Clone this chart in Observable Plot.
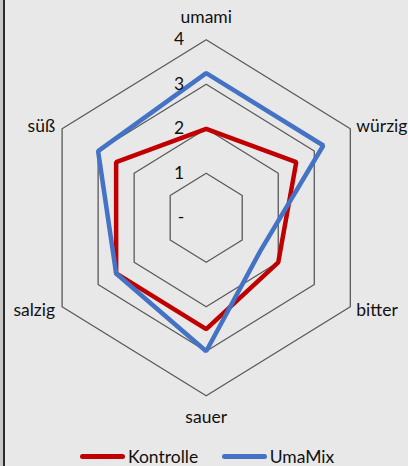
<!DOCTYPE html>
<html>
<head>
<meta charset="utf-8">
<script src="https://cdn.jsdelivr.net/npm/d3@7"></script>
<script src="https://cdn.jsdelivr.net/npm/@observablehq/plot@0.6"></script>
<style>
  html, body { margin: 0; padding: 0; background: #e8e8e8; }
  body { width: 408px; height: 466px; overflow: hidden; position: relative; font-family: Lato, "Open Sans", sans-serif; }
  #edge { position: absolute; left: 0; top: 0; width: 3px; height: 466px; background: #c8c8c8; border-right: 2px solid #2a2a2a; }
  #chart { position: absolute; left: 0; top: 0; }
  #legend { position: absolute; left: 0; top: 446px; width: 408px; height: 20px; font-size: 17.5px; color: #111; }
  .item { position: absolute; top: 0; height: 20px; display: flex; align-items: center; }
  .sw { width: 45px; height: 5px; border-radius: 3px; margin-right: 3px; }
</style>
</head>
<body>
<div id="edge"></div>
<div id="chart"></div>
<div id="legend"></div>
<script>
const categories = ["umami", "würzig", "bitter", "sauer", "salzig", "süß"];
const kontrolle = [2, 2.5, 2, 2.5, 2.5, 2.5];
const umamix = [3.25, 3.25, 1.5, 3, 2.5, 3];
const seriesNames = ["Kontrolle", "UmaMix"];
const seriesColors = ["#c00000", "#4472c4"];
const ringValues = [1, 2, 3, 4];
const tickValues = [0, 1, 2, 3, 4];
const tickLabels = ["-", "1", "2", "3", "4"];

const angle = i => (90 - 60 * i) * Math.PI / 180;
const pt = (v, i) => ({ x: v * Math.cos(angle(i)), y: v * Math.sin(angle(i)) });

const rings = ringValues.flatMap(r => categories.map((c, i) => ({ ring: r, ...pt(r, i) })));
const series = [kontrolle, umamix].map((vals, s) =>
  vals.map((v, i) => ({ series: seriesNames[s], cat: categories[i], ...pt(v, i) })));
const ticks = tickValues.map((v, k) => ({ label: tickLabels[k], x: 0, y: v }));
const outer = d3.max(ringValues);
const labels = categories.map((c, i) => ({ label: c, ...pt(outer, i), i }));

const labelOpts = [
  { dx: 0, dy: -22, anchor: "middle" },
  { dx: 6, dy: -2, anchor: "start" },
  { dx: 6, dy: 4, anchor: "start" },
  { dx: 0, dy: 22, anchor: "middle" },
  { dx: -7, dy: 4, anchor: "end" },
  { dx: -7, dy: -2, anchor: "end" }
];

const plot = Plot.plot({
  width: 408,
  height: 446,
  margin: 0,
  style: { background: "transparent", fontFamily: "Lato, 'Open Sans', sans-serif", overflow: "visible" },
  x: { domain: [-4, 4], range: [39.3, 372.1], axis: null },
  y: { domain: [-4, 4], range: [395.3, 39.3], axis: null },
  marks: [
    Plot.line(rings, { x: "x", y: "y", z: "ring", curve: "linear-closed", stroke: "#595959", strokeWidth: 1.3 }),
    ...series.map((d, s) => Plot.line(d, { x: "x", y: "y", curve: "linear-closed", stroke: seriesColors[s], strokeWidth: 4.5, strokeLinejoin: "miter" })),
    Plot.text(ticks, { x: "x", y: "y", text: "label", dx: -22, textAnchor: "end", fontSize: 17.5, fill: "#111" }),
    ...labels.map(d => Plot.text([d], { x: "x", y: "y", text: "label", dx: labelOpts[d.i].dx, dy: labelOpts[d.i].dy, textAnchor: labelOpts[d.i].anchor, fontSize: 17.5, fill: "#111" }))
  ]
});
document.getElementById("chart").appendChild(plot);

const legend = document.getElementById("legend");
const pos = [80, 221.7];
seriesNames.forEach((n, s) => {
  const it = document.createElement("div");
  it.className = "item";
  it.style.left = pos[s] + "px";
  it.innerHTML = `<span class="sw" style="background:${seriesColors[s]}"></span><span>${n}</span>`;
  legend.appendChild(it);
});
</script>
</body>
</html>
